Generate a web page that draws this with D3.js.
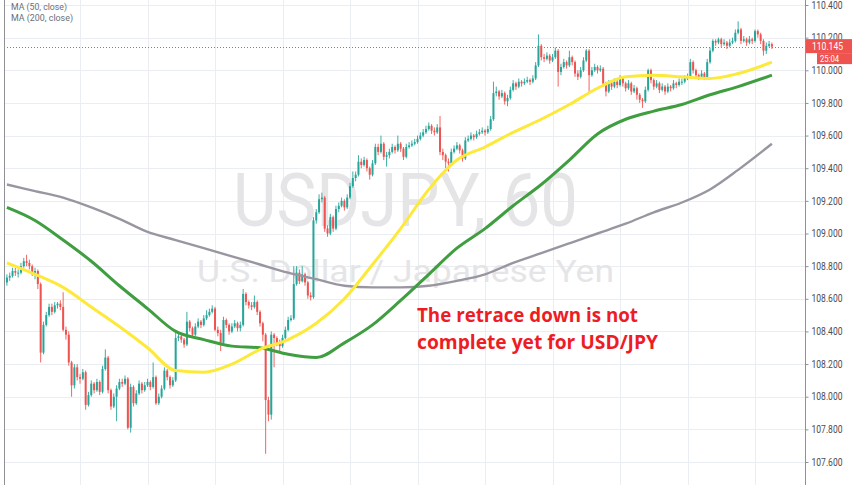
<!DOCTYPE html>
<html><head><meta charset="utf-8">
<script src="https://cdnjs.cloudflare.com/ajax/libs/d3/7.8.5/d3.min.js"></script>
<style>html,body{margin:0;padding:0;background:#fff;overflow:hidden}svg{display:block}</style>
</head><body><svg id="c" width="852" height="485"></svg>
<script>
// ---- data (USDJPY, 60 min) ----
const firstOpen = 108.70;
const closes = [
108.73,108.74,108.77,108.76,108.76,108.80,108.83,108.82,108.80,108.76,
108.77,108.69,108.27,108.44,108.50,108.55,108.52,108.56,108.57,108.55,
108.41,108.38,108.21,108.07,108.18,108.12,108.11,108.15,107.95,108.01,
108.08,108.04,108.09,108.03,108.17,108.24,108.04,107.94,108.00,108.05,
108.09,108.08,108.11,107.81,108.06,107.96,108.02,108.08,108.04,108.07,
108.09,108.06,108.12,107.96,108.00,108.05,108.16,108.12,108.07,108.10,
108.36,108.37,108.35,108.32,108.46,108.42,108.38,108.43,108.46,108.44,
108.48,108.50,108.52,108.54,108.41,108.39,108.33,108.47,108.44,108.40,
108.43,108.45,108.42,108.44,108.63,108.58,108.56,108.55,108.58,108.52,
108.45,108.38,107.98,107.89,108.38,108.36,108.33,108.31,108.36,108.41,
108.47,108.48,108.69,108.76,108.71,108.75,108.70,108.62,108.61,109.08,
109.13,109.21,109.22,109.03,109.00,109.10,109.03,109.15,109.17,109.20,
109.16,109.22,109.29,109.34,109.36,109.44,109.42,109.45,109.40,109.36,
109.43,109.53,109.50,109.55,109.47,109.48,109.50,109.53,109.51,109.55,
109.52,109.47,109.53,109.54,109.55,109.56,109.58,109.60,109.62,109.64,
109.66,109.63,109.62,109.65,109.50,109.48,109.44,109.43,109.50,109.52,
109.54,109.51,109.46,109.57,109.58,109.60,109.59,109.61,109.62,109.63,
109.62,109.64,109.70,109.86,109.87,109.84,109.86,109.81,109.83,109.88,
109.92,109.90,109.93,109.92,109.93,109.94,109.93,109.95,110.03,110.15,
110.08,110.07,110.09,110.06,110.08,110.12,109.99,110.02,110.05,110.03,
110.08,110.05,109.98,109.96,110.00,110.06,110.12,109.97,110.00,110.02,
110.00,110.01,109.92,109.87,109.92,109.90,109.93,109.91,109.95,109.92,
109.89,109.92,109.87,109.89,109.85,109.82,109.81,109.88,110.00,109.94,
109.90,109.92,109.88,109.90,109.87,109.90,109.89,109.92,109.91,109.93,
109.93,109.95,109.96,110.05,110.00,109.97,109.96,109.98,109.95,110.05,
110.12,110.18,110.17,110.19,110.16,110.17,110.15,110.17,110.18,110.23,
110.25,110.18,110.19,110.17,110.19,110.18,110.24,110.22,110.18,110.12,
110.15,110.16,110.145];
const highs = [
108.75,108.76,108.79,108.79,108.78,108.82,108.85,108.87,108.84,108.81,
108.79,108.78,108.70,108.46,108.52,108.57,108.57,108.58,108.58,108.59,
108.64,108.43,108.40,108.22,108.20,108.20,108.14,108.17,108.16,108.03,
108.10,108.09,108.11,108.10,108.19,108.29,108.25,108.05,108.02,108.07,
108.11,108.11,108.13,108.12,108.08,108.07,108.04,108.10,108.09,108.09,
108.11,108.10,108.21,108.13,108.02,108.07,108.18,108.17,108.13,108.12,
108.39,108.39,108.38,108.36,108.52,108.47,108.43,108.45,108.48,108.47,
108.50,108.53,108.54,108.56,108.55,108.43,108.41,108.49,108.48,108.45,
108.45,108.47,108.46,108.46,108.66,108.64,108.59,108.58,108.62,108.59,
108.53,108.46,108.39,108.00,108.40,108.39,108.37,108.35,108.38,108.43,
108.49,108.50,108.80,108.80,108.78,108.80,108.76,108.71,108.64,109.10,
109.15,109.24,109.25,109.23,109.05,109.12,109.11,109.17,109.19,109.22,
109.21,109.24,109.31,109.38,109.38,109.48,109.46,109.47,109.46,109.41,
109.45,109.55,109.55,109.60,109.56,109.50,109.52,109.55,109.54,109.60,
109.56,109.53,109.55,109.56,109.57,109.58,109.60,109.62,109.64,109.66,
109.68,109.67,109.65,109.67,109.72,109.52,109.49,109.46,109.52,109.54,
109.56,109.55,109.52,109.59,109.60,109.62,109.61,109.63,109.64,109.65,
109.64,109.66,109.72,109.93,109.90,109.88,109.88,109.87,109.85,109.90,
109.94,109.93,109.95,109.94,109.95,109.96,109.95,109.97,110.05,110.22,
110.16,110.10,110.11,110.10,110.10,110.14,110.13,110.04,110.07,110.06,
110.12,110.09,110.06,110.00,110.02,110.08,110.13,110.13,110.02,110.04,
110.03,110.03,110.02,109.93,109.94,109.93,109.95,109.94,109.97,109.96,
109.93,109.94,109.93,109.91,109.90,109.86,109.83,109.90,110.01,110.01,
109.95,109.94,109.93,109.92,109.91,109.92,109.91,109.94,109.93,109.95,
109.95,109.97,109.98,110.07,110.06,110.01,109.98,110.00,109.99,110.07,
110.14,110.19,110.19,110.20,110.20,110.19,110.18,110.19,110.20,110.25,
110.30,110.26,110.21,110.20,110.21,110.20,110.25,110.25,110.23,110.19,
110.17,110.18,110.17];
const lows = [
108.68,108.71,108.73,108.74,108.73,108.75,108.79,108.80,108.78,108.74,
108.72,108.66,108.21,108.26,108.43,108.49,108.50,108.51,108.54,108.53,
108.40,108.35,108.19,108.00,108.05,108.10,108.08,108.10,107.92,107.94,
108.00,108.02,108.03,108.01,108.02,108.16,108.02,107.92,107.93,107.85,
108.04,108.06,108.07,107.80,107.78,107.94,107.95,108.01,108.02,108.03,
108.06,108.04,108.05,107.95,107.95,107.99,108.04,108.10,108.05,108.06,
108.09,108.34,108.33,108.30,108.31,108.40,108.36,108.37,108.42,108.42,
108.43,108.47,108.49,108.51,108.40,108.37,108.28,108.32,108.42,108.38,
108.39,108.42,108.40,108.40,108.43,108.56,108.54,108.53,108.54,108.50,
108.43,108.34,107.65,107.85,107.86,108.18,108.31,108.28,108.30,108.35,
108.40,108.46,108.47,108.68,108.69,108.70,108.68,108.60,108.59,108.60,
109.06,109.12,109.19,109.01,108.98,108.99,109.01,109.02,109.13,109.16,
109.14,109.15,109.21,109.28,109.32,109.35,109.40,109.41,109.38,109.33,
109.35,109.42,109.48,109.49,109.45,109.41,109.46,109.49,109.49,109.50,
109.50,109.45,109.46,109.52,109.53,109.54,109.55,109.57,109.59,109.61,
109.63,109.61,109.60,109.61,109.48,109.45,109.40,109.38,109.42,109.49,
109.51,109.49,109.44,109.45,109.56,109.57,109.57,109.58,109.60,109.61,
109.60,109.61,109.63,109.69,109.84,109.82,109.83,109.79,109.78,109.82,
109.87,109.88,109.89,109.90,109.91,109.92,109.91,109.92,109.94,110.02,
110.06,110.05,110.06,110.04,110.05,110.07,109.90,109.97,110.01,110.01,
110.02,110.03,109.96,109.94,109.95,109.99,110.05,109.86,109.96,109.99,
109.98,109.99,109.90,109.84,109.86,109.88,109.89,109.89,109.90,109.90,
109.87,109.88,109.85,109.86,109.82,109.80,109.77,109.80,109.87,109.92,
109.88,109.89,109.86,109.87,109.85,109.86,109.87,109.88,109.89,109.90,
109.91,109.92,109.94,109.95,109.98,109.95,109.94,109.95,109.94,109.94,
110.04,110.11,110.15,110.16,110.14,110.15,110.13,110.14,110.16,110.17,
110.22,110.16,110.17,110.15,110.16,110.16,110.17,110.20,110.16,110.09,
110.10,110.14,110.13];

// moving averages, read at candle indices
const maIdx  = [0,10,20,30,40,50,60,70,80,90,100,110,120,130,140,150,160,170,180,190,200,210,220,230,240,250,260,272];
const ma50   = [108.82,108.75,108.67,108.55,108.43,108.30,108.16,108.15,108.20,108.29,108.35,108.45,108.60,108.81,109.03,109.27,109.45,109.53,109.62,109.70,109.79,109.89,109.96,109.97,109.96,109.95,109.98,110.05];
const ma100  = [109.16,109.08,108.96,108.83,108.68,108.54,108.40,108.35,108.31,108.30,108.26,108.24,108.33,108.44,108.59,108.75,108.91,109.03,109.17,109.30,109.45,109.61,109.70,109.75,109.79,109.85,109.90,109.97];
const ma200  = [109.30,109.26,109.22,109.16,109.09,109.01,108.96,108.91,108.86,108.81,108.76,108.72,108.68,108.67,108.67,108.68,108.71,108.75,108.82,108.88,108.94,109.00,109.06,109.13,109.19,109.27,109.39,109.55];

const priceTicks = [107.6,107.8,108.0,108.2,108.4,108.6,108.8,109.0,109.2,109.4,109.6,109.8,110.0,110.2,110.4];
const dayStartIdx = [26,50,74,98,122,146,170,194,218,242,266];
const lastPrice = 110.145;
const countdown = "25:04";
const legendLabels = ["MA (50, close)", "MA (200, close)"];
const watermark = "USDJPY, 60";
const watermarkSub = "U.S. Dollar / Japanese Yen";
const noteLines = ["The retrace down is not", "complete yet for USD/JPY"];

// ---- drawing ----
const W = 852, H = 485, axisX = 805, leftX = 4;
const svg = d3.select("#c");
const x = d3.scaleLinear().domain([0, closes.length - 1]).range([6.9, 771.9]);
const y = d3.scaleLinear().domain([107.6, 110.4]).range([462, 5]);
const opens = closes.map((c, i) => i === 0 ? firstOpen : closes[i - 1]);
const uiFont = "Roboto, 'Open Sans', sans-serif";

svg.append("rect").attr("width", W).attr("height", H).attr("fill", "#fff");
const defs = svg.append("defs");
defs.append("clipPath").attr("id", "plot").append("rect")
  .attr("x", leftX).attr("y", 0).attr("width", axisX - leftX).attr("height", H);

const g = svg.append("g").attr("clip-path", "url(#plot)");
// grid
g.selectAll(".hg").data(priceTicks).join("line")
  .attr("x1", leftX).attr("x2", axisX).attr("y1", d => Math.round(y(d)) + 0.5).attr("y2", d => Math.round(y(d)) + 0.5)
  .attr("stroke", "#eaeef3").attr("stroke-width", 1);
g.selectAll(".vg").data(dayStartIdx).join("line")
  .attr("x1", d => Math.round(x(d)) + 0.5).attr("x2", d => Math.round(x(d)) + 0.5).attr("y1", 0).attr("y2", H)
  .attr("stroke", "#eaeef3").attr("stroke-width", 1);

// watermark
g.append("text").text(watermark).attr("x", 233).attr("y", 226)
  .attr("font-family", uiFont).attr("font-size", 74)
  .attr("textLength", 345).attr("lengthAdjust", "spacingAndGlyphs")
  .attr("fill", "#e5e5e8");
g.append("text").text(watermarkSub).attr("x", 197).attr("y", 282)
  .attr("font-family", uiFont).attr("font-size", 31)
  .attr("textLength", 417).attr("lengthAdjust", "spacingAndGlyphs")
  .attr("fill", "#e5e5e8");

// candles
const up = "#26a69a", dn = "#ef5350";
const cg = g.append("g");
closes.forEach((c, i) => {
  const o = opens[i], col = c >= o ? up : dn;
  const cx = x(i);
  const hi = Math.max(highs[i], o, c), lo = Math.min(lows[i], o, c);
  cg.append("line").attr("x1", cx).attr("x2", cx).attr("y1", y(hi)).attr("y2", y(lo))
    .attr("stroke", col).attr("stroke-width", 0.9);
  const top = y(Math.max(o, c)), bot = y(Math.min(o, c));
  cg.append("rect").attr("x", cx - 1).attr("width", 2)
    .attr("y", top).attr("height", Math.max(1, bot - top)).attr("fill", col);
});

// moving averages
const line = d3.line().x(d => x(d[0])).y(d => y(d[1])).curve(d3.curveMonotoneX);
[[ma200, "#9a96a1", 2.4], [ma100, "#3f9e3f", 3], [ma50, "#fde93a", 3]].forEach(([vals, col, w]) => {
  g.append("path").datum(maIdx.map((k, j) => [k, vals[j]])).attr("d", line)
    .attr("fill", "none").attr("stroke", col).attr("stroke-width", w).attr("stroke-linejoin", "round");
});

// last price dotted line
g.append("line").attr("x1", leftX).attr("x2", axisX)
  .attr("y1", Math.round(y(lastPrice)) + 0.5).attr("y2", Math.round(y(lastPrice)) + 0.5)
  .attr("stroke", dn).attr("stroke-width", 1).attr("stroke-dasharray", "1,2");

// annotation
noteLines.forEach((t, k) => {
  svg.append("text").text(t).attr("x", 417).attr("y", 322 + k * 27)
    .attr("font-family", "'Open Sans', 'Noto Sans', sans-serif").attr("font-weight", "bold")
    .attr("font-size", 20).attr("textLength", k ? 241 : 221).attr("lengthAdjust", "spacingAndGlyphs")
    .attr("fill", "#ee1c24");
});

// legend
legendLabels.forEach((t, k) => {
  svg.append("text").text(t).attr("x", 11).attr("y", 9.5 + k * 11.5)
    .attr("font-family", uiFont).attr("font-size", 9.5)
    .attr("textLength", k ? 62 : 56).attr("lengthAdjust", "spacingAndGlyphs")
    .attr("fill", "#6b6e78");
});

// borders
svg.append("line").attr("x1", leftX + 0.5).attr("x2", leftX + 0.5).attr("y1", 0).attr("y2", H)
  .attr("stroke", "#8f9196").attr("stroke-width", 1);

// right price axis
const axis = d3.axisRight(y).tickValues(priceTicks).tickFormat(d3.format(".3f")).tickSize(3).tickPadding(3);
const ag = svg.append("g").attr("transform", `translate(${axisX + 0.5},0)`).call(axis);
ag.select(".domain").attr("stroke", "#8f9196").attr("d", `M0,0V${H}`);
ag.selectAll(".tick line").attr("stroke", "#8f9196");
ag.selectAll(".tick text").attr("font-family", uiFont).attr("font-size", 10)
  .attr("fill", "#4a4d56").attr("textLength", 31).attr("lengthAdjust", "spacingAndGlyphs");

// last price labels
const ly = y(lastPrice);
svg.append("rect").attr("x", axisX + 1).attr("y", ly - 7.5).attr("width", W - axisX - 1).attr("height", 14).attr("fill", dn);
svg.append("text").text(d3.format(".3f")(lastPrice)).attr("x", 812).attr("y", ly + 3.5)
  .attr("font-family", uiFont).attr("font-size", 10).attr("fill", "#fff")
  .attr("textLength", 31).attr("lengthAdjust", "spacingAndGlyphs");
svg.append("rect").attr("x", 817).attr("y", ly + 6.5).attr("width", W - 817).attr("height", 11).attr("fill", dn);
svg.append("text").text(countdown).attr("x", 820).attr("y", ly + 15)
  .attr("font-family", uiFont).attr("font-size", 9).attr("fill", "#fff")
  .attr("textLength", 19).attr("lengthAdjust", "spacingAndGlyphs");
</script></body></html>
